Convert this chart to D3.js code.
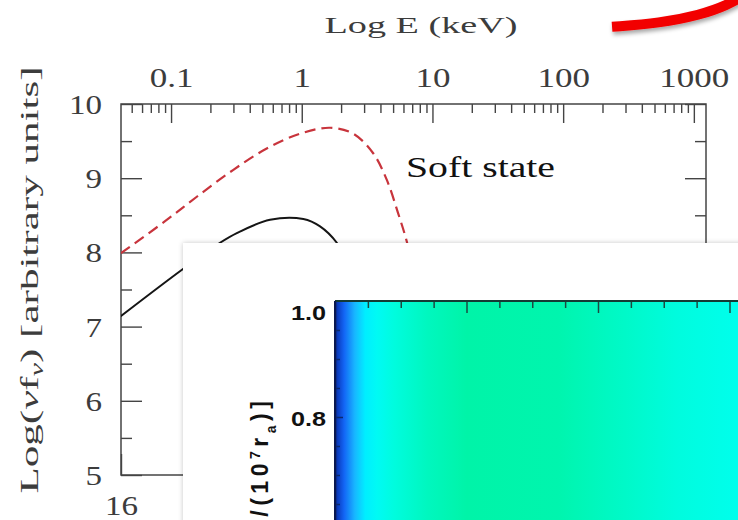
<!DOCTYPE html>
<html>
<head>
<meta charset="utf-8">
<script src="https://cdn.jsdelivr.net/npm/d3@7"></script>
<style>
  body { margin: 0; background: #fff; }
  svg { display: block; }
</style>
</head>
<body>
<div id="chart"></div>
<script>
// spectrum (keV, log nu f_nu)
const energyTicks = [0.1, 1, 10, 100, 1000];
const fluxTicks = [5, 6, 7, 8, 9, 10];
const fluxMinor = [5.5, 6.5, 7.5, 8.5, 9.5];
const nuTicks = [16, 17, 18, 19, 20];

const softLogE = [-1.383, -1.046, -0.803, -0.526, -0.268, -0.013, 0.217, 0.393, 0.545, 0.650, 0.737, 0.806, 0.87];
const softFlux = [7.99, 8.42, 8.75, 9.11, 9.40, 9.60, 9.68, 9.60, 9.34, 8.98, 8.53, 8.13, 7.6];

const hardLogE = [-1.385, -0.906, -0.625, -0.497, -0.243, 0.012, 0.14, 0.268, 0.37];
const hardFlux = [7.14, 7.78, 8.13, 8.26, 8.44, 8.45, 8.35, 8.13, 7.8];

// inset colour map: position along inset x axis, normalised value
const insetPos = [0, 0.02, 0.07, 0.15, 0.23, 0.32, 0.45, 0.7, 1.0, 1.7, 2.2, 2.6, 3.1];
const insetVal = [0, 0.1, 0.22, 0.35, 0.45, 0.5, 0.58, 0.68, 0.75, 0.73, 0.65, 0.58, 0.53];
const insetYTicks = [1.0, 0.8];

// red marker stroke, in spectrum coordinates
const strokeLogE = [2.374, 2.741, 3.047, 3.254, 3.40];
const strokeFlux = [11.04, 11.09, 11.2, 11.33, 11.48];

const width = 738;
const height = 520;
const serif = '"Liberation Serif", "Times New Roman", serif';
const sans = '"Liberation Sans", Arial, sans-serif';
const textColor = '#3c3c3c';

const svg = d3.select('#chart')
  .append('svg')
  .attr('width', width)
  .attr('height', height)
  .attr('viewBox', `0 0 ${width} ${height}`);

const defs = svg.append('defs');
const shadow = defs.append('filter').attr('id', 'panelShadow')
  .attr('x', '-10%').attr('y', '-10%').attr('width', '130%').attr('height', '130%');
shadow.append('feDropShadow').attr('dx', 0).attr('dy', 0)
  .attr('stdDeviation', 2.5).attr('flood-color', '#000').attr('flood-opacity', 0.22);
const strokeShadow = defs.append('filter').attr('id', 'strokeShadow')
  .attr('x', '-20%').attr('y', '-50%').attr('width', '140%').attr('height', '200%');
strokeShadow.append('feDropShadow').attr('dx', 1).attr('dy', 3)
  .attr('stdDeviation', 2).attr('flood-color', '#000').attr('flood-opacity', 0.35);

const area = { left: 121, right: 706, top: 104, bottom: 475 };

const x = d3.scaleLog()
  .domain([Math.pow(10, -1.383), Math.pow(10, 3.093)])
  .range([area.left, area.right]);
const xNu = d3.scaleLinear()
  .domain([16, 16 + 4.476])
  .range([area.left, area.right]);
const y = d3.scaleLinear()
  .domain([5, 10])
  .range([area.bottom, area.top]);

// stretch text horizontally like the reference
function stretch(sel, k) {
  sel.each(function () {
    const len = this.getComputedTextLength();
    d3.select(this).attr('textLength', len * k).attr('lengthAdjust', 'spacingAndGlyphs');
  });
}

const tickColor = '#444';

function styleAxis(g) {
  g.select('.domain').remove();
  g.selectAll('line').attr('stroke', tickColor).attr('stroke-width', 1.4);
  g.selectAll('text')
    .attr('fill', textColor)
    .style('font-family', serif)
    .style('font-size', '28px');
}

// top axis, log E
const minorE = x.ticks().filter(d => !energyTicks.includes(d));
svg.append('g')
  .attr('transform', `translate(0,${area.top})`)
  .call(d3.axisTop(x).tickValues(minorE).tickSize(-9).tickFormat(''))
  .call(styleAxis);
const topAxis = svg.append('g')
  .attr('transform', `translate(0,${area.top})`)
  .call(d3.axisTop(x).tickValues(energyTicks).tickSize(-19).tickPadding(17)
    .tickFormat(d => d < 1 ? d3.format('.1f')(d) : d3.format('d')(d)))
  .call(styleAxis);
topAxis.selectAll('text').call(stretch, 1.25);

// left axis
svg.append('g')
  .attr('transform', `translate(${area.left},0)`)
  .call(d3.axisLeft(y).tickValues(fluxMinor).tickSize(-11).tickFormat(''))
  .call(styleAxis);
const leftAxis = svg.append('g')
  .attr('transform', `translate(${area.left},0)`)
  .call(d3.axisLeft(y).tickValues(fluxTicks).tickSize(-21).tickPadding(19).tickFormat(d3.format('d')))
  .call(styleAxis);
leftAxis.selectAll('text').attr('dy', '0.34em').call(stretch, 1.18);

// right axis
svg.append('g')
  .attr('transform', `translate(${area.right},0)`)
  .call(d3.axisRight(y).tickValues(fluxMinor).tickSize(-11).tickFormat(''))
  .call(styleAxis);
svg.append('g')
  .attr('transform', `translate(${area.right},0)`)
  .call(d3.axisRight(y).tickValues(fluxTicks).tickSize(-21).tickFormat(''))
  .call(styleAxis);

// bottom axis, log nu
const bottomAxis = svg.append('g')
  .attr('transform', `translate(0,${area.bottom})`)
  .call(d3.axisBottom(xNu).tickValues(nuTicks).tickSize(-21).tickPadding(20).tickFormat(d3.format('d')))
  .call(styleAxis);
bottomAxis.selectAll('text').call(stretch, 1.18);

// frame
svg.append('rect')
  .attr('x', area.left).attr('y', area.top)
  .attr('width', area.right - area.left).attr('height', area.bottom - area.top)
  .attr('fill', 'none').attr('stroke', tickColor).attr('stroke-width', 1.5);

// curves
defs.append('clipPath').attr('id', 'plotClip')
  .append('rect')
  .attr('x', area.left).attr('y', area.top)
  .attr('width', area.right - area.left).attr('height', area.bottom - area.top);

const line = d3.line()
  .x(d => x(Math.pow(10, d[0])))
  .y(d => y(d[1]))
  .curve(d3.curveCatmullRom.alpha(0.5));

const curves = svg.append('g').attr('clip-path', 'url(#plotClip)');
curves.append('path')
  .datum(d3.zip(hardLogE, hardFlux))
  .attr('d', line)
  .attr('fill', 'none')
  .attr('stroke', '#151515')
  .attr('stroke-width', 2);
curves.append('path')
  .datum(d3.zip(softLogE, softFlux))
  .attr('d', line)
  .attr('fill', 'none')
  .attr('stroke', '#c8343c')
  .attr('stroke-width', 2.2)
  .attr('stroke-dasharray', '11,6');

// labels
svg.append('text')
  .attr('x', 421).attr('y', 33)
  .attr('text-anchor', 'middle')
  .style('font-family', serif).style('font-size', '24px')
  .attr('fill', textColor)
  .attr('textLength', 193).attr('lengthAdjust', 'spacingAndGlyphs')
  .text('Log E (keV)');

const yLabel = svg.append('text')
  .attr('transform', 'translate(38,280) rotate(-90)')
  .attr('text-anchor', 'middle')
  .style('font-family', serif).style('font-size', '26px')
  .attr('fill', textColor)
  .attr('textLength', 427).attr('lengthAdjust', 'spacingAndGlyphs');
yLabel.append('tspan').text('Log(');
yLabel.append('tspan').style('font-style', 'italic').text('ν');
yLabel.append('tspan').text('f');
yLabel.append('tspan').style('font-style', 'italic').style('font-size', '18px')
  .attr('baseline-shift', '-25%').text('ν');
yLabel.append('tspan').text(')  [arbitrary  units]');

svg.append('text')
  .attr('x', x(6.28)).attr('y', y(9.016))
  .style('font-family', serif).style('font-size', '30px')
  .attr('fill', '#111')
  .attr('textLength', 149).attr('lengthAdjust', 'spacingAndGlyphs')
  .text('Soft state');

// inset panel
svg.append('rect')
  .attr('x', 183).attr('y', 243)
  .attr('width', 620).attr('height', 320)
  .attr('fill', '#fff')
  .attr('filter', 'url(#panelShadow)');

const xi = d3.scaleLinear().domain([0, 3]).range([335, 729.5]);
const yi = d3.scaleLinear().domain([0.6, 1.0]).range([533, 301]);

const color = d3.scaleLinear()
  .domain([0, 0.1, 0.22, 0.35, 0.45, 0.52, 0.62, 0.75])
  .range(['#071a5c', '#0a3cc0', '#1366f5', '#18b6ff', '#00eeff', '#00fff0', '#00fad2', '#00f4a8']);

const x1 = xi(0), x2 = xi(insetPos[insetPos.length - 1]);
const grad = defs.append('linearGradient')
  .attr('id', 'heat')
  .attr('gradientUnits', 'userSpaceOnUse')
  .attr('x1', x1).attr('x2', x2).attr('y1', 0).attr('y2', 0);
grad.selectAll('stop')
  .data(d3.zip(insetPos, insetVal))
  .join('stop')
  .attr('offset', d => (xi(d[0]) - x1) / (x2 - x1))
  .attr('stop-color', d => color(d[1]));

svg.append('rect')
  .attr('x', x1).attr('y', yi(1.0))
  .attr('width', x2 - x1).attr('height', yi(0.6) - yi(1.0))
  .attr('fill', 'url(#heat)');

// inset ticks
const insetTop = svg.append('g')
  .attr('transform', `translate(0,${yi(1.0)})`)
  .call(d3.axisTop(xi).tickValues(d3.range(0.25, 3.01, 0.25)).tickSize(-7).tickFormat(''));
insetTop.selectAll('line')
  .attr('y2', d => Math.abs(d % 1) < 1e-6 ? 12 : 7);
insetTop.select('.domain').remove();
insetTop.selectAll('line').attr('stroke', '#1d4a40').attr('stroke-width', 1.5);

const insetLeft = svg.append('g')
  .attr('transform', `translate(${xi(0)},0)`)
  .call(d3.axisLeft(yi).tickValues(d3.range(0.65, 1.0, 0.05)).tickSize(-5).tickFormat(''));
insetLeft.select('.domain').remove();
insetLeft.selectAll('line')
  .attr('x2', d => Math.abs(d - 0.8) < 1e-6 ? 8 : 5)
  .attr('stroke', '#0b2a70').attr('stroke-width', 1.5);

svg.append('line')
  .attr('x1', xi(0)).attr('x2', width).attr('y1', yi(1.0)).attr('y2', yi(1.0))
  .attr('stroke', '#143a34').attr('stroke-width', 2);
svg.append('line')
  .attr('x1', xi(0)).attr('x2', xi(0)).attr('y1', yi(1.0)).attr('y2', height)
  .attr('stroke', '#0a1850').attr('stroke-width', 2);

svg.append('g')
  .selectAll('text')
  .data(insetYTicks)
  .join('text')
  .attr('x', 326)
  .attr('y', d => Math.max(yi(d), yi(1.0) + 10))
  .attr('dy', '0.45em')
  .attr('text-anchor', 'end')
  .style('font-family', sans)
  .style('font-size', '21px').style('font-weight', 'bold')
  .attr('fill', '#111')
  .text(d => d3.format('.1f')(d))
  .call(stretch, 1.2);

// visible tail of the inset's axis title
const insetLabel = svg.append('text')
  .attr('transform', `translate(268,${yi(0.835)}) rotate(-90)`)
  .attr('text-anchor', 'end')
  .style('font-family', sans)
  .style('font-size', '23px').style('font-weight', 'bold')
  .style('letter-spacing', '4.5px')
  .attr('fill', '#111');
insetLabel.append('tspan').text('/(10');
insetLabel.append('tspan').attr('baseline-shift', 'super').style('font-size', '14px').text('7');
insetLabel.append('tspan').text('r');
insetLabel.append('tspan').attr('baseline-shift', 'sub').style('font-size', '14px').text('a');
insetLabel.append('tspan').text(')]');

// red marker stroke
svg.append('path')
  .datum(d3.zip(strokeLogE, strokeFlux))
  .attr('d', d3.line()
    .x(d => x(Math.pow(10, d[0])))
    .y(d => y(d[1]))
    .curve(d3.curveBasis))
  .attr('fill', 'none')
  .attr('stroke', '#f20000')
  .attr('stroke-width', 10)
  .attr('stroke-linecap', 'butt')
  .attr('filter', 'url(#strokeShadow)');
</script>
</body>
</html>
